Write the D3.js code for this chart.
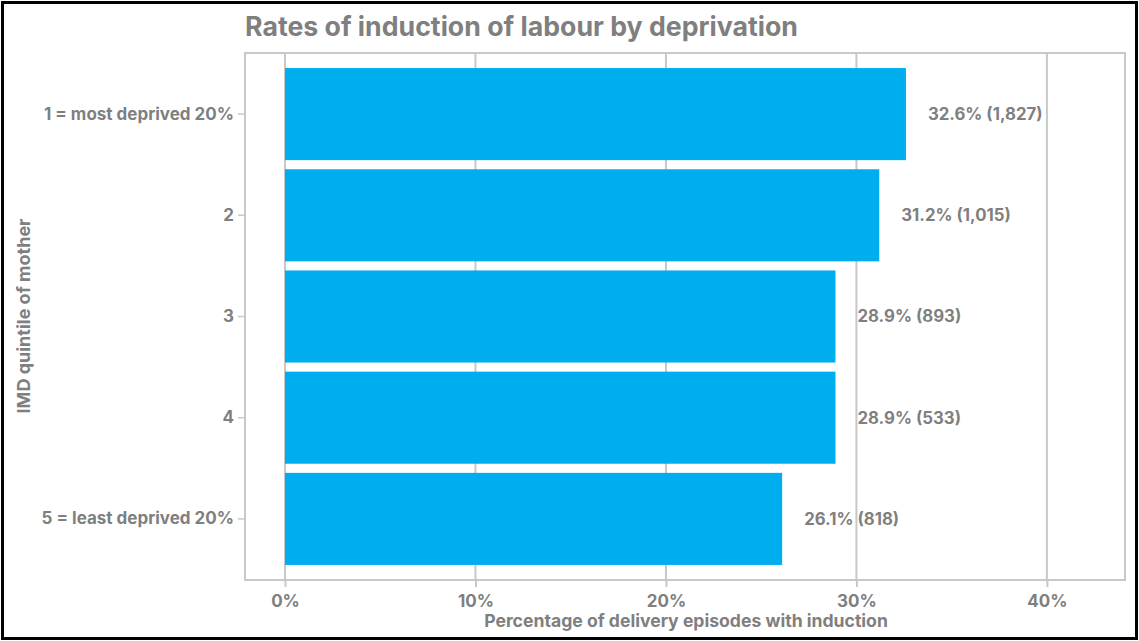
<!DOCTYPE html>
<html>
<head>
<meta charset="utf-8">
<script src="https://cdn.jsdelivr.net/npm/d3@7"></script>
<style>
  html, body { margin: 0; padding: 0; background: #fff; }
  svg { display: block; }
  text { font-family: Inter, "Open Sans", sans-serif; font-weight: 700; fill: #7f7f7f; }
</style>
</head>
<body>
<svg id="chart" width="1139" height="641"></svg>
<script>
// IMD quintile categories, induction rate (%) and count of induced episodes
const quintiles = ["1 = most deprived 20%", "2", "3", "4", "5 = least deprived 20%"];
const inductionRate = [32.6, 31.2, 28.9, 28.9, 26.1];
const inductionCount = [1827, 1015, 893, 533, 818];
const xTicks = [0, 10, 20, 30, 40];

const W = 1139, H = 641;
const frame = { left: 245, top: 53, right: 1125, bottom: 580 };
const FONT = "Inter, 'Open Sans', sans-serif";

const svg = d3.select("#chart");

// outer border
svg.append("rect")
  .attr("x", 2.5).attr("y", 2.5)
  .attr("width", W - 5).attr("height", H - 5)
  .attr("fill", "#fff").attr("stroke", "#000").attr("stroke-width", 3);

const x = d3.scaleLinear().domain([-2.1, 44.1]).range([frame.left, frame.right]);
const y = d3.scaleBand().domain(quintiles)
  .range([frame.top + 10.5, frame.bottom - 10.5])
  .paddingInner(0.09).paddingOuter(0.045);

// title
svg.append("text")
  .attr("x", frame.left).attr("y", 36)
  .style("font-size", "26.7px")
  .text("Rates of induction of labour by deprivation");

// vertical gridlines
svg.append("g").selectAll("line").data(xTicks).join("line")
  .attr("x1", d => x(d)).attr("x2", d => x(d))
  .attr("y1", frame.top).attr("y2", frame.bottom)
  .attr("stroke", "#c8c8c8").attr("stroke-width", 2);

// bars
const rows = quintiles.map((q, i) => ({ q, v: inductionRate[i], n: inductionCount[i] }));
svg.append("g").selectAll("rect").data(rows).join("rect")
  .attr("x", x(0))
  .attr("y", d => y(d.q))
  .attr("width", d => x(d.v) - x(0))
  .attr("height", y.bandwidth())
  .attr("fill", "#00aeef");

// value labels
svg.append("g").selectAll("text").data(rows).join("text")
  .attr("x", d => x(d.v) + 22)
  .attr("y", d => y(d.q) + y.bandwidth() / 2)
  .attr("dy", "0.35em")
  .style("font-size", "16.8px")
  .text(d => d.v.toFixed(1) + "% (" + d3.format(",")(d.n) + ")");

// plot frame
svg.append("rect")
  .attr("x", frame.left).attr("y", frame.top)
  .attr("width", frame.right - frame.left).attr("height", frame.bottom - frame.top)
  .attr("fill", "none").attr("stroke", "#c8c8c8").attr("stroke-width", 2);

// x axis
const xAxis = svg.append("g")
  .attr("transform", `translate(0,${frame.bottom})`)
  .call(d3.axisBottom(x).tickValues(xTicks).tickFormat(d => d + "%").tickSize(7).tickPadding(8));
xAxis.select(".domain").remove();
xAxis.selectAll(".tick line").attr("stroke", "#c8c8c8").attr("stroke-width", 2);
xAxis.selectAll(".tick text").attr("fill", "#7f7f7f").style("font-size", "17px")
  .style("font-family", FONT).style("font-weight", 700);

// y axis
const yAxis = svg.append("g")
  .attr("transform", `translate(${frame.left},0)`)
  .call(d3.axisLeft(y).tickSize(7).tickPadding(4));
yAxis.select(".domain").remove();
yAxis.selectAll(".tick line").attr("stroke", "#c8c8c8").attr("stroke-width", 1.5);
yAxis.selectAll(".tick text").attr("fill", "#7f7f7f").style("font-size", "17px")
  .style("font-family", FONT).style("font-weight", 700);

// axis titles
svg.append("text")
  .attr("x", 686).attr("y", 627)
  .attr("text-anchor", "middle")
  .style("font-size", "17.6px")
  .text("Percentage of delivery episodes with induction");

svg.append("text")
  .attr("transform", `translate(30,316) rotate(-90)`)
  .attr("text-anchor", "middle")
  .style("font-size", "18px")
  .text("IMD quintile of mother");
</script>
</body>
</html>
